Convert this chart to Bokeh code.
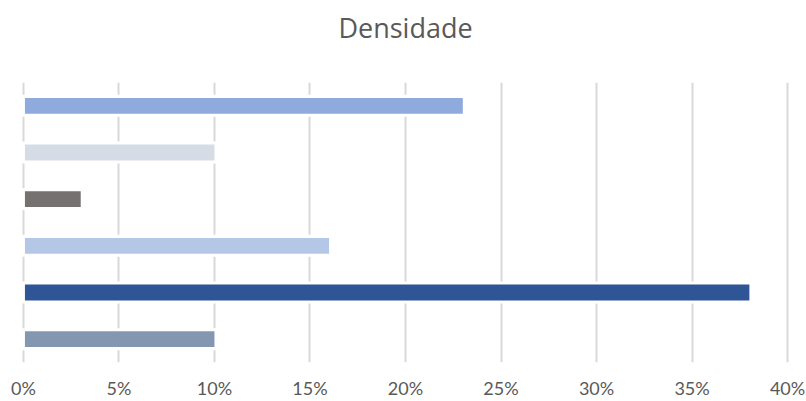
from bokeh.plotting import figure
from bokeh.models import FactorRange, Range1d, FixedTicker, ColumnDataSource, Title
from bokeh.embed import file_html
from bokeh.resources import INLINE

# Data (top to bottom)
categories = ["1", "2", "3", "4", "5", "6"]
values = [23, 10, 3, 16, 38, 10]  # percent
colors = ["#8FAADC", "#D6DCE5", "#767171", "#B4C7E7", "#2F5597", "#8497B0"]
tick_values = [0, 5, 10, 15, 20, 25, 30, 35, 40]
tick_labels = {t: f"{t}%" for t in tick_values}
title_text = "Densidade"

src = ColumnDataSource(dict(cat=categories, val=values, color=colors,
                            halo=[v + 0.16 for v in values]))

p = figure(width=806, height=401, output_backend="svg", toolbar_location=None,
           y_range=FactorRange(factors=list(reversed(categories))),
           x_range=Range1d(-0.1, 40.1))
p.min_border_left = 21
p.min_border_right = 17
p.min_border_top = 0
p.min_border_bottom = 0
p.outline_line_color = None
p.background_fill_color = "white"
p.border_fill_color = "white"

# spacer between the title and the plot area (added first: nearest to the frame)
spacer = Title(text=" ", text_font="Open Sans", text_font_size="10px", standoff=12)
p.add_layout(spacer, "above")
main_title = Title(text=title_text, align="center", vertical_align="middle",
                   text_font="Open Sans", text_font_size="27px",
                   text_font_style="normal", text_color="#595959", standoff=15)
p.add_layout(main_title, "above")

# white halo behind bars (interrupts gridlines like the original)
p.hbar(y="cat", left=-0.2, right="halo", height=0.47, source=src,
       fill_color="white", line_color=None)
p.hbar(y="cat", left=0.08, right="val", height=0.34, source=src,
       fill_color="color", line_color=None)

p.yaxis.visible = False
p.ygrid.grid_line_color = None
p.xgrid.ticker = FixedTicker(ticks=tick_values)
p.xgrid.grid_line_color = "#D9D9D9"
p.xgrid.grid_line_width = 2

ax = p.xaxis[0]
ax.ticker = FixedTicker(ticks=tick_values)
ax.major_label_overrides = tick_labels
ax.axis_line_color = None
ax.major_tick_line_color = None
ax.minor_tick_line_color = None
ax.major_tick_out = 0
ax.major_tick_in = 0
ax.major_label_standoff = 14
ax.major_label_text_font = "Lato"
ax.major_label_text_font_size = "18px"
ax.major_label_text_color = "#595959"

open("out.html", "w").write(file_html(p, INLINE))
